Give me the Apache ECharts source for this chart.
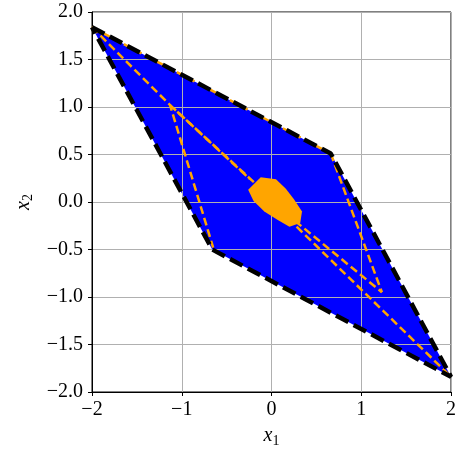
<!DOCTYPE html>
<html>
<head>
<meta charset="utf-8">
<script src="https://cdn.jsdelivr.net/npm/echarts@6/dist/echarts.min.js"></script>
<style>
  html, body { margin: 0; padding: 0; background: #fff; }
  #chart { width: 464px; height: 453px; }
</style>
</head>
<body>
<div id="chart"></div>
<script>
// blue set (polygon vertices)
var blueX = [-2.0, 0.66, 2.0, -0.66];
var blueY = [1.84, 0.51, -1.84, -0.50];

// orange dashed outlines
var orangeAX = [-2.0, -1.13, -0.65];
var orangeAY = [1.84, 1.02, -0.48];
var orangeBX = [-1.13, -0.24];
var orangeBY = [1.02, 0.24];
var orangeCX = [-1.05, -0.14];
var orangeCY = [0.95, 0.16];
var orangeDX = [0.66, 1.23];
var orangeDY = [0.51, -0.95];
var orangeEX = [0.16, 1.23];
var orangeEY = [-0.12, -0.95];
var orangeFX = [0.28, 2.0];
var orangeFY = [-0.26, -1.84];
var orangeGX = [-2.0, 0.66];
var orangeGY = [1.84, 0.51];

// orange filled blob at the centre
var blobX = [-0.12, 0.05, 0.16, 0.25, 0.34, 0.32, 0.20, 0.07, -0.08, -0.20, -0.26];
var blobY = [0.26, 0.24, 0.14, 0.03, -0.10, -0.22, -0.26, -0.19, -0.10, 0.01, 0.13];

var xTicks = [-2, -1, 0, 1, 2];
var yTicks = [-2.0, -1.5, -1.0, -0.5, 0.0, 0.5, 1.0, 1.5, 2.0];

function pairs(xs, ys, close) {
    var out = [];
    for (var i = 0; i < xs.length; i++) out.push([xs[i], ys[i]]);
    if (close) out.push([xs[0], ys[0]]);
    return out;
}

function polySeries(xs, ys, color, zl, z) {
    return {
        type: 'custom',
        zlevel: zl,
        z: z,
        silent: true,
        data: [0],
        renderItem: function (params, api) {
            var pts = [];
            for (var i = 0; i < xs.length; i++) pts.push(api.coord([xs[i], ys[i]]));
            return { type: 'polygon', shape: { points: pts }, style: { fill: color } };
        }
    };
}

function dashLine(data, color, width, dash, z) {
    return {
        type: 'line',
        zlevel: 1,
        z: z,
        data: data,
        showSymbol: false,
        silent: true,
        animation: false,
        lineStyle: { color: color, width: width, type: dash }
    };
}

function minus(v) { return String(v).replace('-', '\u2212'); }

var font = 'Liberation Serif';
var nameRich = {
    i: { fontFamily: font, fontStyle: 'italic', fontSize: 20, color: '#000' },
    s: { fontFamily: font, fontSize: 14, color: '#000', padding: [10, 0, 0, 0] }
};
var myChart = echarts.init(document.getElementById('chart'));
var option = {
    animation: false,
    grid: {
        left: 92, right: 13, top: 12, bottom: 61,
        show: true, borderColor: '#000', borderWidth: 1, backgroundColor: 'transparent'
    },
    xAxis: {
        type: 'value', min: -2, max: 2, interval: 1, zlevel: 1,
        name: '{i|x}{s|1}', nameLocation: 'middle', nameGap: 32,
        nameTextStyle: { rich: nameRich },
        axisLine: { onZero: false, lineStyle: { color: '#000', width: 1 } },
        axisTick: { show: true, length: 4, lineStyle: { color: '#000' } },
        axisLabel: {
            color: '#000', fontFamily: font, fontSize: 20, margin: 8,
            formatter: function (v) { return minus(v); }
        },
        splitLine: { show: true, lineStyle: { color: '#b0b0b0', width: 1 } }
    },
    yAxis: {
        type: 'value', min: -2, max: 2, interval: 0.5, zlevel: 1,
        name: '{i|x}{s|2}', nameLocation: 'middle', nameGap: 56, nameRotate: 90,
        nameTextStyle: { rich: nameRich },
        axisLine: { onZero: false, lineStyle: { color: '#000', width: 1 } },
        axisTick: { show: true, length: 4, lineStyle: { color: '#000' } },
        axisLabel: {
            color: '#000', fontFamily: font, fontSize: 20, margin: 9,
            formatter: function (v) { return minus(v.toFixed(1)); }
        },
        splitLine: { show: true, lineStyle: { color: '#b0b0b0', width: 1 } }
    },
    series: [
        polySeries(blueX, blueY, '#0000ff', 0, 0),
        dashLine(pairs(orangeGX, orangeGY), '#ffa500', 2.5, [8, 4], 2),
        dashLine(pairs(orangeAX, orangeAY), '#ffa500', 2.5, [8, 4], 3),
        dashLine(pairs(orangeBX, orangeBY), '#ffa500', 2.5, [8, 4], 3),
        dashLine(pairs(orangeCX, orangeCY), '#ffa500', 2.5, [8, 4], 3),
        dashLine(pairs(orangeDX, orangeDY), '#ffa500', 2.5, [8, 4], 3),
        dashLine(pairs(orangeEX, orangeEY), '#ffa500', 2.5, [8, 4], 3),
        dashLine(pairs(orangeFX, orangeFY), '#ffa500', 2.5, [8, 4], 3),
        dashLine(pairs(blueX, blueY, true), '#000', 4.5, [14, 6], 4),
        polySeries(blobX, blobY, '#ffa500', 1, 5)
    ]
};
myChart.setOption(option);
</script>
</body>
</html>
